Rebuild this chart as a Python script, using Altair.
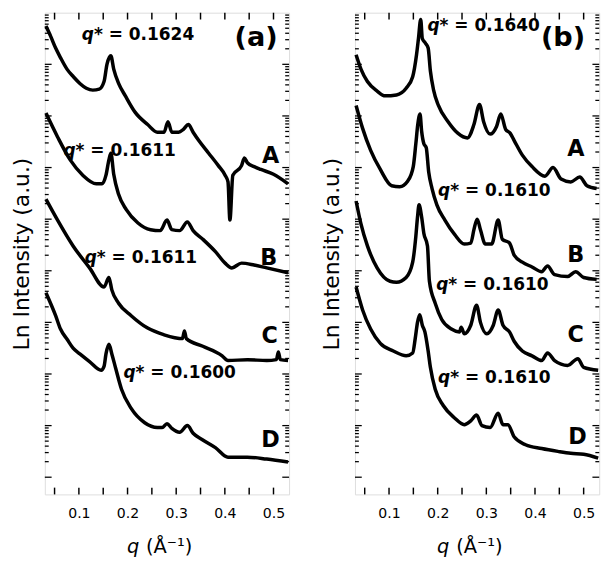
import math
import altair as alt
import pandas as pd

# ---------------- panel (a) curves: q (1/Angstrom) and Ln intensity level (a.u.) ----------------
a_A_q = [0.0323, 0.0423, 0.0522, 0.0622, 0.0755, 0.0887, 0.102, 0.1153, 0.1285, 0.1418, 0.1517, 0.1577,
         0.1657, 0.1716, 0.1816, 0.1955, 0.2154, 0.2413, 0.2612, 0.2751, 0.2831, 0.291, 0.305, 0.3149,
         0.3249, 0.3348, 0.3468, 0.3667, 0.3866, 0.4005, 0.4065, 0.4104, 0.4164, 0.4343, 0.4403, 0.4463,
         0.4602, 0.4741, 0.5, 0.5299]
a_A_l = [490, 479, 467, 457, 445, 437, 430, 425, 423, 424, 432, 450,
         459, 445, 430, 417, 400, 387, 379, 379, 390, 379, 379, 382,
         387, 379, 370, 357, 344, 334, 327, 287, 334, 344, 352, 347,
         343, 340, 335, 325]

a_B_q = [0.0323, 0.0562, 0.0821, 0.108, 0.1358, 0.1478, 0.1557, 0.1617, 0.1657, 0.1716, 0.1816, 0.1975,
         0.2214, 0.2473, 0.2672, 0.2811, 0.291, 0.307, 0.3229, 0.3348, 0.3547, 0.3806, 0.4005, 0.4144,
         0.4343, 0.4602, 0.4861, 0.5299]
a_B_l = [399, 374, 350, 334, 325, 325, 334, 350, 357, 335, 314, 298,
         284, 277, 276, 287, 277, 276, 285, 276, 267, 254, 242, 237,
         242, 240, 237, 232]

a_C_q = [0.0323, 0.0562, 0.0881, 0.1219, 0.1517, 0.1617, 0.1677, 0.1816, 0.2075, 0.2413, 0.2751, 0.297,
         0.3129, 0.3169, 0.3209, 0.3547, 0.3945, 0.4065, 0.4463, 0.4861, 0.506, 0.51, 0.514, 0.5299]
a_C_l = [309, 287, 260, 237, 217, 227, 214, 200, 187, 174, 167, 164,
         163, 171, 163, 155, 145, 140, 141, 140, 141, 149, 141, 140]

a_D_q = [0.0323, 0.0522, 0.0622, 0.0761, 0.0881, 0.102, 0.1219, 0.1458, 0.1517, 0.1557, 0.1617, 0.1677,
         0.1756, 0.1876, 0.2075, 0.2353, 0.2612, 0.2711, 0.2811, 0.291, 0.307, 0.3229, 0.3348, 0.3547,
         0.3806, 0.4065, 0.4463, 0.4861, 0.5299]
a_D_l = [211, 187, 173, 162, 153, 147, 139, 130, 134, 147, 157, 147,
         132, 110, 90, 75, 70, 70, 74, 69, 65, 72, 64, 57,
         49, 39, 39, 37, 34]

# ---------------- panel (b) curves ----------------
b_A_q = [0.0323, 0.0423, 0.0556, 0.0755, 0.0921, 0.1153, 0.1352, 0.1486, 0.1565, 0.1605, 0.1651, 0.1684,
         0.175, 0.1804, 0.185, 0.1916, 0.2015, 0.2214, 0.2413, 0.2612, 0.2745, 0.2859, 0.2944, 0.3078,
         0.321, 0.3297, 0.3396, 0.3488, 0.3575, 0.374, 0.3939, 0.4204, 0.4371, 0.4536, 0.4735, 0.492,
         0.5068, 0.5267]
b_A_l = [460, 445, 432, 422, 417, 418, 425, 437, 460, 477, 497, 477,
         472, 467, 443, 423, 407, 390, 378, 373, 387, 408, 390, 377,
         385, 398, 382, 378, 370, 355, 343, 333, 342, 330, 327, 332,
         323, 320]

b_B_q = [0.0323, 0.0457, 0.0622, 0.0821, 0.1054, 0.1219, 0.1386, 0.1498, 0.1551, 0.1591, 0.1637, 0.167,
         0.1716, 0.1764, 0.1816, 0.1884, 0.1983, 0.2148, 0.2347, 0.2546, 0.268, 0.2745, 0.2811, 0.2879,
         0.2978, 0.311, 0.3243, 0.3328, 0.3476, 0.3575, 0.374, 0.3939, 0.4138, 0.4258, 0.4403, 0.467,
         0.4835, 0.5, 0.5267]
b_B_l = [407, 383, 360, 340, 323, 322, 328, 343, 367, 387, 398, 380,
         367, 363, 337, 320, 303, 287, 272, 262, 263, 277, 288, 277,
         262, 262, 287, 267, 263, 250, 243, 238, 233, 239, 230, 228,
         233, 227, 225]

b_C_q = [0.0323, 0.0423, 0.0556, 0.0755, 0.102, 0.1153, 0.1352, 0.1486, 0.1551, 0.1585, 0.1617, 0.1671,
         0.1716, 0.179, 0.183, 0.1949, 0.2083, 0.2282, 0.2447, 0.2483, 0.2548, 0.268, 0.2799, 0.2879,
         0.301, 0.3143, 0.3243, 0.3342, 0.3476, 0.3575, 0.374, 0.3939, 0.4138, 0.4258, 0.4403, 0.467,
         0.4881, 0.5, 0.5299]
b_C_l = [307, 283, 260, 237, 223, 222, 227, 243, 270, 290, 303, 290,
         273, 260, 223, 200, 183, 173, 170, 175, 168, 177, 198, 180,
         168, 177, 193, 177, 170, 160, 150, 145, 140, 148, 140, 135,
         142, 133, 130]

b_D_q = [0.0323, 0.0457, 0.0622, 0.0821, 0.1088, 0.1352, 0.1486, 0.1538, 0.1585, 0.1631, 0.1684, 0.1737,
         0.1804, 0.185, 0.1949, 0.2114, 0.2347, 0.2546, 0.268, 0.2799, 0.291, 0.3078, 0.3243, 0.3342,
         0.3442, 0.3575, 0.3806, 0.4138, 0.447, 0.4735, 0.5, 0.5299]
b_D_l = [217, 193, 173, 158, 150, 145, 148, 163, 180, 188, 177, 170,
         150, 133, 110, 93, 80, 73, 77, 83, 72, 70, 85, 73,
         73, 60, 52, 48, 45, 43, 42, 38]

# ---------------- annotations ----------------
a_qstar_val = ["* = 0.1624", "* = 0.1611", "* = 0.1611", "* = 0.1600"]
a_qstar_q = [0.106, 0.0682, 0.1119, 0.1915]
a_qstar_l = [480, 359, 247, 127]
b_qstar_val = ["* = 0.1640", "* = 0.1610", "* = 0.1610", "* = 0.1610"]
b_qstar_q = [0.179, 0.2009, 0.1969, 0.2009]
b_qstar_l = [490, 317, 219, 122]

letters = ["A", "B", "C", "D"]
a_letter_q = [0.494, 0.49, 0.492, 0.494]
a_letter_l = [354, 247, 165, 57]
b_letter_q = [0.4841, 0.4835, 0.4835, 0.4874]
b_letter_l = [361, 250, 167, 60]

a_panel = ["(a)", 0.4642, 477]
b_panel = ["(b)", 0.4576, 477]

x_labels = [0.1, 0.2, 0.3, 0.4, 0.5]
x_ticks = [0.05, 0.10, 0.15, 0.20, 0.25, 0.30, 0.35, 0.40, 0.45, 0.50]
decades = [18, 72, 126, 180, 234, 288, 342, 396, 450]
DECADE = 54

QDOM = [0.03, 0.532]
LDOM = [0, 504]
W, H = 252, 497
FONT = "DejaVu Sans"


def X(field):
    return alt.X(f"{field}:Q",
                 scale=alt.Scale(domain=QDOM, nice=False, zero=False),
                 axis=alt.Axis(values=x_labels, format=".1f", ticks=False, domain=False, grid=False,
                               labelFont=FONT, labelFontSize=14.5, labelColor="black",
                               labelPadding=13, title=None))


def Y(field):
    return alt.Y(f"{field}:Q",
                 scale=alt.Scale(domain=LDOM, nice=False, zero=False),
                 axis=alt.Axis(labels=False, ticks=False, domain=False, grid=False,
                               title="Ln Intensity (a.u.)", titleFont=FONT, titleFontSize=22.5,
                               titleFontWeight="normal", titleColor="black", titlePadding=12))


def panel(curves, qs_val, qs_q, qs_l, let_q, let_l, plabel):
    rows = []
    for name, qq, ll in curves:
        for q, l in zip(qq, ll):
            rows.append({"curve": name, "q": q, "lvl": l})
    df = pd.DataFrame(rows)

    major = pd.DataFrame({"t": decades})
    minor = pd.DataFrame({"t": [d + DECADE * math.log10(m) for d in decades for m in range(2, 10)
                                if d + DECADE * math.log10(m) < LDOM[1] - 1]})
    xt = pd.DataFrame({"t": x_ticks})

    lines = alt.Chart(df).mark_line(color="black", strokeWidth=3.6, interpolate="monotone").encode(
        x=X("q"), y=Y("lvl"), detail="curve:N")

    tick_layers = []
    for tdf, ln in [(major, 7), (minor, 4)]:
        tick_layers.append(alt.Chart(tdf).mark_rule(color="black", strokeWidth=1.3).encode(
            y=Y("t"), x=alt.value(0), x2=alt.value(ln)))
        tick_layers.append(alt.Chart(tdf).mark_rule(color="black", strokeWidth=1.3).encode(
            y=Y("t"), x=alt.value(W), x2=alt.value(W - ln)))
    tick_layers.append(alt.Chart(xt).mark_rule(color="black", strokeWidth=1.5).encode(
        x=X("t"), y=alt.value(H), y2=alt.value(H - 7)))
    tick_layers.append(alt.Chart(xt).mark_rule(color="black", strokeWidth=1.5).encode(
        x=X("t"), y=alt.value(0), y2=alt.value(7)))

    qdf = pd.DataFrame({"q": qs_q, "lvl": qs_l, "val": qs_val})
    q_it = alt.Chart(qdf).mark_text(text="q", font=FONT, fontWeight="bold", fontStyle="italic",
                                     fontSize=17.5, align="left", baseline="middle",
                                     color="black").encode(x=X("q"), y=Y("lvl"))
    q_rest = alt.Chart(qdf).mark_text(font=FONT, fontWeight="bold", fontSize=17.5, align="left",
                                       baseline="middle", dx=12.5, color="black").encode(
        x=X("q"), y=Y("lvl"), text="val:N")

    ldf = pd.DataFrame({"q": let_q, "lvl": let_l, "txt": letters})
    let = alt.Chart(ldf).mark_text(font=FONT, fontWeight="bold", fontSize=23, align="center",
                                   baseline="middle", color="black").encode(
        x=X("q"), y=Y("lvl"), text="txt:N")

    pdf = pd.DataFrame({"q": [plabel[1]], "lvl": [plabel[2]], "txt": [plabel[0]]})
    plab = alt.Chart(pdf).mark_text(font=FONT, fontWeight="bold", fontSize=28, align="center",
                                    baseline="middle", color="black").encode(
        x=X("q"), y=Y("lvl"), text="txt:N")

    tdf = pd.DataFrame({"q": [0.224]})
    xt_q = alt.Chart(tdf).mark_text(text="q", font=FONT, fontStyle="italic", fontSize=20,
                                    align="right", baseline="middle", color="black").encode(
        x=X("q"), y=alt.value(H + 54))
    xt_rest = alt.Chart(tdf).mark_text(text="(Å⁻¹)", font=FONT, fontSize=20, align="left",
                                       baseline="middle", dx=7, color="black").encode(
        x=X("q"), y=alt.value(H + 54))

    return alt.layer(lines, *tick_layers, q_it, q_rest, let, plab, xt_q, xt_rest).properties(
        width=W, height=H)


pa = panel([("A", a_A_q, a_A_l), ("B", a_B_q, a_B_l), ("C", a_C_q, a_C_l), ("D", a_D_q, a_D_l)],
           a_qstar_val, a_qstar_q, a_qstar_l, a_letter_q, a_letter_l, a_panel)
pb = panel([("A", b_A_q, b_A_l), ("B", b_B_q, b_B_l), ("C", b_C_q, b_C_l), ("D", b_D_q, b_D_l)],
           b_qstar_val, b_qstar_q, b_qstar_l, b_letter_q, b_letter_l, b_panel)

chart = alt.hconcat(pa, pb, spacing=25).properties(
    padding={"left": 2, "right": 0, "top": -6, "bottom": 0}
).configure_view(stroke="black", strokeWidth=2).configure(background="white")

chart.save("out.html", embed_options={"renderer": "svg", "actions": False})
